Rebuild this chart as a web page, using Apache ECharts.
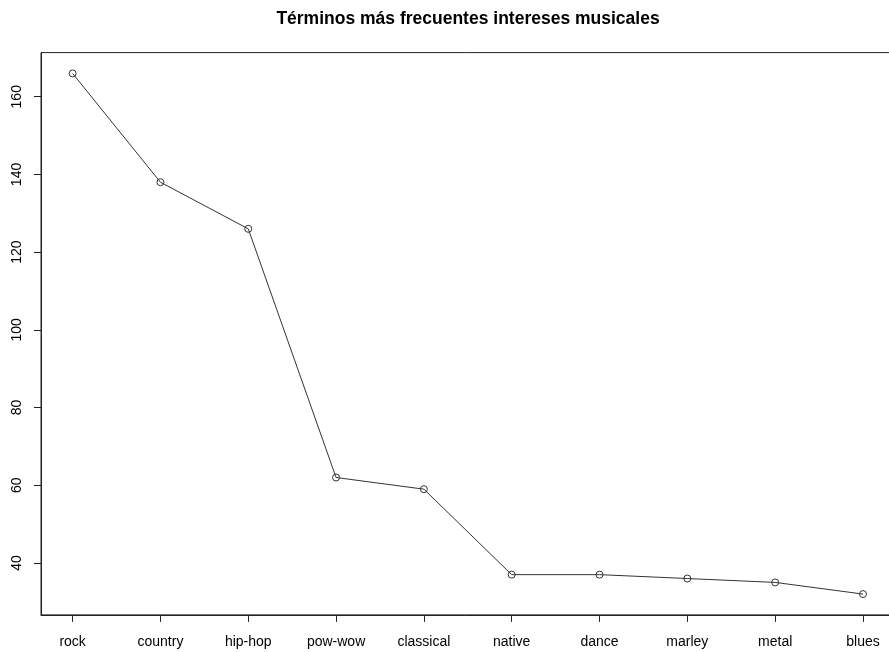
<!DOCTYPE html>
<html>
<head>
<meta charset="utf-8">
<script src="https://cdn.jsdelivr.net/npm/echarts@6/dist/echarts.min.js"></script>
<style>html,body{margin:0;padding:0;background:#fff}#c{width:889px;height:652px}</style>
</head>
<body>
<div id="c"></div>
<script>
const categories = ["rock","country","hip-hop","pow-wow","classical","native","dance","marley","metal","blues"];
const values = [166,138,126,62,59,37,37,36,35,32];
const yTicks = [40,60,80,100,120,140,160];
const titleText = "Términos más frecuentes intereses musicales";

const n = categories.length;
const yMinData = Math.min(...values), yMaxData = Math.max(...values);
const yPad = (yMaxData - yMinData) * 0.04;
const xPad = (n - 1) * 0.04;
const pts = values.map((v, i) => [i + 1, v]);
const xTicks = categories.map((c, i) => i + 1);

const chart = echarts.init(document.getElementById('c'), null, {renderer: 'canvas'});
const font = 'Liberation Sans, Arial, Helvetica, sans-serif';
chart.setOption({
  animation: false,
  backgroundColor: '#fff',
  title: {
    text: titleText,
    left: 463, top: 5, textAlign: 'center',
    textStyle: {fontFamily: font, fontWeight: 'bold', fontSize: 17.5, color: '#000'}
  },
  grid: {left: 41, top: 52.6, width: 853.6, height: 562.3, outerBoundsMode: 'none', containLabel: false,
    show: true, borderColor: '#222', borderWidth: 1, backgroundColor: 'transparent'},
  xAxis: {
    type: 'value', min: 1 - xPad, max: n + xPad,
    splitLine: {show: false},
    axisLine: {show: true, onZero: false, lineStyle: {color: '#222'}},
    axisTick: {show: true, customValues: xTicks, length: 7, lineStyle: {color: '#222'}},
    axisLabel: {customValues: xTicks, margin: 20, fontFamily: font, fontSize: 14, color: '#000',
      formatter: v => categories[Math.round(v) - 1] || ''}
  },
  yAxis: {
    type: 'value', min: yMinData - yPad, max: yMaxData + yPad,
    splitLine: {show: false},
    axisLine: {show: true, onZero: false, lineStyle: {color: '#222'}},
    axisTick: {show: true, customValues: yTicks, length: 7, lineStyle: {color: '#222'}},
    axisLabel: {customValues: yTicks, rotate: 90, margin: 17, fontFamily: font, fontSize: 14, color: '#000'}
  },
  series: [{
    type: 'line', data: pts,
    symbol: 'circle', symbolSize: 7, showAllSymbol: true,
    lineStyle: {color: '#333', width: 1},
    itemStyle: {color: 'rgba(255,255,255,0)', borderColor: '#333', borderWidth: 1},
    emphasis: {disabled: true}
  }]
});
</script>
</body>
</html>
